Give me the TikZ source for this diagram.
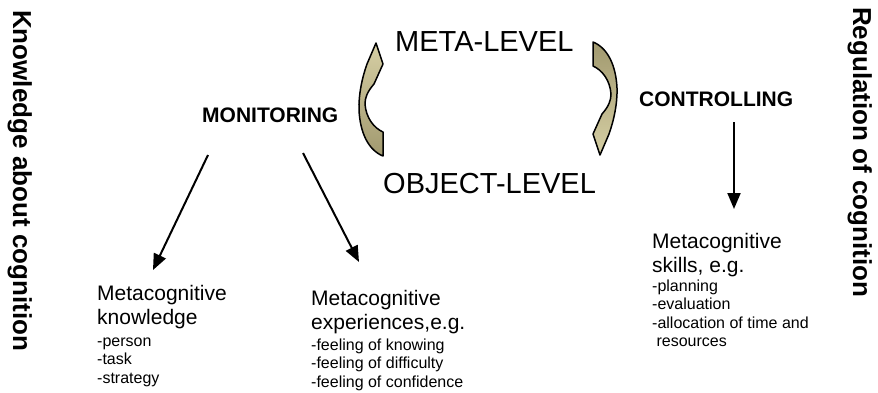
\documentclass[tikz,border=0pt]{standalone}
\usepackage{fontspec}
\setmainfont{Liberation Sans}
\usetikzlibrary{arrows.meta}
\definecolor{tanlight}{HTML}{D6CFA4}
\definecolor{tandark}{HTML}{A1996F}
\begin{document}
\begin{tikzpicture}[x=1pt,y=-1pt,
  side/.style={font=\fontsize{26}{30}\selectfont\bfseries, inner sep=0pt, rotate=-90, anchor=base west},
  headtxt/.style={font=\fontsize{21}{24}\selectfont\bfseries, inner sep=0pt, anchor=base west},
  leveltxt/.style={font=\fontsize{29}{34}\selectfont, inner sep=0pt, anchor=base west},
  titletxt/.style={font=\fontsize{21}{24}\selectfont, inner sep=0pt, anchor=base west, align=left},
  itemtxt/.style={font=\fontsize{16}{18.5}\selectfont, inner sep=0pt, anchor=base west, align=left},
  conn/.style={line width=2pt, -{Triangle[length=16pt,width=13pt]}},
  curvedarrow/.style={draw=black, line width=1.5pt, line join=round}
]
\useasboundingbox (0,0) rectangle (878,392);

% side labels
\node[side] (know) at (13,10) {Knowledge about cognition};
\node[side] (regu) at (853,7) {Regulation of cognition};

% headings
\node[headtxt] (mon) at (202,122) {MONITORING};
\node[headtxt] (con) at (639,106) {CONTROLLING};
\node[leveltxt] (meta) at (395,51) {META-LEVEL};
\node[leveltxt] (obj) at (383,193) {OBJECT-LEVEL};

% curved block arrows
\path[curvedarrow, top color=tanlight, bottom color=tandark]
  (383,156) .. controls (368,150) and (360,132) .. (359,110)
  .. controls (358.5,95) and (362,78) .. (367,64) -- (376,43) -- (383,64) -- (374,84)
  .. controls (367,92) and (365,98) .. (365,104)
  .. controls (366,118) and (374,128) .. (383,132) -- cycle;
\begin{scope}[shift={(976,198)}, xscale=-1, yscale=-1]
\path[curvedarrow, top color=tandark, bottom color=tanlight]
  (383,156) .. controls (368,150) and (360,132) .. (359,110)
  .. controls (358.5,95) and (362,78) .. (367,64) -- (376,43) -- (383,64) -- (374,84)
  .. controls (367,92) and (365,98) .. (365,104)
  .. controls (366,118) and (374,128) .. (383,132) -- cycle;
\end{scope}

% blocks (anchor = baseline of the last line)
\node[titletxt] (kt) at (97,324) {Metacognitive\\knowledge};
\node[itemtxt] (ki) at (97,383.3) {-person\\-task\\-strategy};
\node[titletxt] (et) at (311,329) {Metacognitive\\experiences,e.g.};
\node[itemtxt] (ei) at (311,387.3) {-feeling of knowing\\-feeling of difficulty\\-feeling of confidence};
\node[titletxt] (st) at (652,272) {Metacognitive\\skills, e.g.};
\node[itemtxt] (si) at (652,346.7) {-planning\\-evaluation\\-allocation of time and\\\hspace*{4.4pt}resources};

% connectors
\coordinate (m1s) at (208,155);
\coordinate (m1e) at (153,270);
\coordinate (m2s) at (303,153);
\coordinate (m2e) at (359,262);
\coordinate (c1s) at (734,122);
\coordinate (c1e) at (734,209);
\draw[conn] (m1s) -- (m1e);
\draw[conn] (m2s) -- (m2e);
\draw[conn] (c1s) -- (c1e);
\end{tikzpicture}
\end{document}
